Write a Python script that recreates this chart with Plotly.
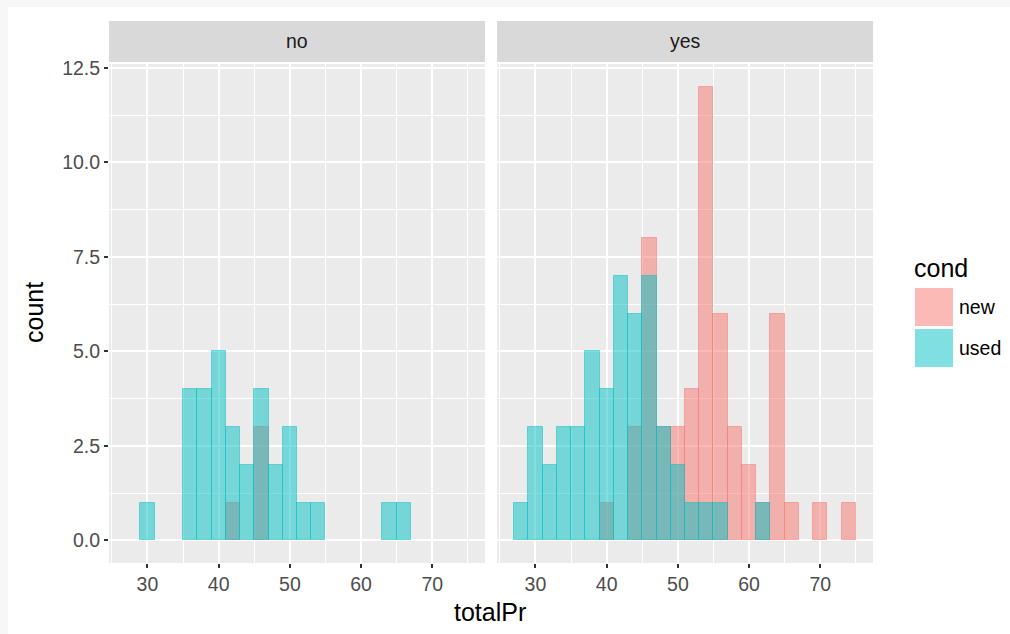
import plotly.graph_objects as go

# ---- data ----
bin_centers = [28, 30, 32, 34, 36, 38, 40, 42, 44, 46, 48, 50, 52, 54, 56, 58, 60, 62, 64, 66, 68, 70, 72, 74]
bin_width = 2
# facet "no"
no_new  = [0, 0, 0, 0, 0, 0, 0, 1, 0, 3, 0, 0, 0, 0, 0, 0, 0, 0, 0, 0, 0, 0, 0, 0]
no_used = [0, 1, 0, 0, 4, 4, 5, 3, 2, 4, 2, 3, 1, 1, 0, 0, 0, 0, 1, 1, 0, 0, 0, 0]
# facet "yes"
yes_new  = [0, 0, 0, 0, 0, 0, 1, 0, 3, 8, 3, 3, 4, 12, 6, 3, 2, 1, 6, 1, 0, 1, 0, 1]
yes_used = [1, 3, 2, 3, 3, 5, 4, 7, 6, 7, 3, 2, 1, 1, 1, 0, 0, 1, 0, 0, 0, 0, 0, 0]

facets = ["no", "yes"]
conds = ["new", "used"]
x_ticks = [30, 40, 50, 60, 70]
y_ticks = [0, 2.5, 5.0, 7.5, 10.0, 12.5]
y_tick_text = ["0.0", "2.5", "5.0", "7.5", "10.0", "12.5"]

fill = {"new": "rgba(248,118,109,0.5)", "used": "rgba(0,191,196,0.5)"}
key_fill = {"new": "#FBBAB6", "used": "#7FDFE1"}

data = {("no", "new"): no_new, ("no", "used"): no_used,
        ("yes", "new"): yes_new, ("yes", "used"): yes_used}

# ---- geometry (pixels) ----
W, H = 1010, 634
L, R, T, B = 109, 873, 64, 563
PW = R - L
PH = B - T
def px(x):
    return (x - L) / PW
def py(y):
    return (B - y) / PH

FONT = "Liberation Sans, Arial, Helvetica"
TICK_SIZE = 19.5
TITLE_SIZE = 25

fig = go.Figure()
for fi, facet in enumerate(facets):
    xa = "x" if fi == 0 else "x2"
    for c in conds:
        counts = data[(facet, c)]
        xs = [b for b, n in zip(bin_centers, counts) if n > 0]
        ys = [n for n in counts if n > 0]
        fig.add_trace(go.Bar(
            x=xs, y=ys, width=bin_width, xaxis=xa, yaxis="y",
            marker=dict(color=fill[c], line=dict(color=fill[c], width=1)),
            name=c, showlegend=False, hoverinfo="skip"))

xmin, xmax = 27 - 0.05 * 48, 75 + 0.05 * 48
ymin, ymax = -0.6, 12.6
axis_common = dict(
    range=[xmin, xmax], tickvals=x_ticks, ticks="outside", ticklen=4,
    tickwidth=1.5, tickcolor="#333333", showline=False, zeroline=False,
    showgrid=True, gridcolor="white", gridwidth=1.8,
    minor=dict(dtick=5, tick0=25, showgrid=True, gridcolor="white", gridwidth=0.8, ticks=""),
    tickfont=dict(family=FONT, size=TICK_SIZE, color="#4D4D4D"),
    fixedrange=True,
)
d0 = (PW - 12) / 2 / PW
fig.update_layout(
    width=W, height=H,
    margin=dict(l=L, r=W - R, t=T, b=H - B, pad=0),
    paper_bgcolor="white", plot_bgcolor="#EBEBEB",
    barmode="overlay", bargap=0,
    xaxis=dict(domain=[0, d0], anchor="y", **axis_common),
    xaxis2=dict(domain=[1 - d0, 1], anchor="y", **axis_common),
    yaxis=dict(range=[ymin, ymax], tickvals=y_ticks, ticktext=y_tick_text,
               ticks="outside", ticklen=4, tickwidth=1.5, tickcolor="#333333",
               showline=False, zeroline=False, showgrid=True, gridcolor="white",
               gridwidth=1.8,
               minor=dict(dtick=1.25, tick0=0, showgrid=True, gridcolor="white", gridwidth=0.8, ticks=""),
               tickfont=dict(family=FONT, size=TICK_SIZE, color="#4D4D4D"),
               fixedrange=True),
    font=dict(family=FONT),
)

shapes = []
annotations = []
# strips
for x0, x1, lab in [(0, d0, facets[0]), (1 - d0, 1, facets[1])]:
    shapes.append(dict(type="rect", xref="paper", yref="paper", x0=x0, x1=x1,
                       y0=py(62), y1=py(21), fillcolor="#D9D9D9", line=dict(width=0), layer="below"))
    annotations.append(dict(text=lab, x=(x0 + x1) / 2, y=py(41.5), xref="paper", yref="paper",
                            showarrow=False, font=dict(size=TICK_SIZE, color="#1A1A1A"),
                            xanchor="center", yanchor="middle"))
# outer light border
border = "#F7F7F7"
shapes.append(dict(type="rect", xref="paper", yref="paper", x0=px(0), x1=px(W),
                   y0=py(7), y1=py(0), fillcolor=border, line=dict(width=0), layer="below"))
shapes.append(dict(type="rect", xref="paper", yref="paper", x0=px(0), x1=px(8),
                   y0=py(H), y1=py(0), fillcolor=border, line=dict(width=0), layer="below"))
# axis titles
annotations.append(dict(text="totalPr", x=px(490), y=py(612), xref="paper", yref="paper",
                        showarrow=False, font=dict(size=TITLE_SIZE, color="black"),
                        xanchor="center", yanchor="middle"))
annotations.append(dict(text="count", x=px(34), y=py(313), xref="paper", yref="paper",
                        showarrow=False, font=dict(size=TITLE_SIZE, color="black"), textangle=-90,
                        xanchor="center", yanchor="middle"))
# legend
annotations.append(dict(text="cond", x=px(912), y=py(268), xref="paper", yref="paper",
                        showarrow=False, font=dict(size=TITLE_SIZE, color="black"),
                        xanchor="left", yanchor="middle"))
for i, c in enumerate(conds):
    y0 = 288 + i * 41
    shapes.append(dict(type="rect", xref="paper", yref="paper", x0=px(915), x1=px(953),
                       y0=py(y0 + 38), y1=py(y0), fillcolor=key_fill[c], line=dict(width=0)))
    annotations.append(dict(text=c, x=px(957), y=py(y0 + 19), xref="paper", yref="paper",
                            showarrow=False, font=dict(size=TICK_SIZE, color="black"),
                            xanchor="left", yanchor="middle"))
fig.update_layout(shapes=shapes, annotations=annotations)

fig.write_html("out.html")
